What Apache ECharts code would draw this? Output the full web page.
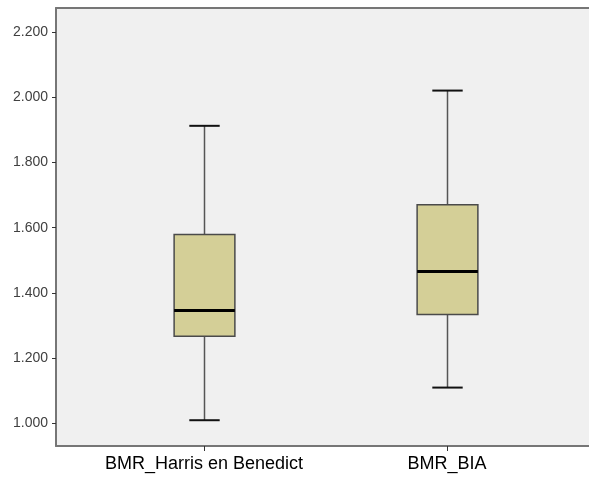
<!DOCTYPE html>
<html>
<head>
<meta charset="utf-8">
<script src="https://cdn.jsdelivr.net/npm/echarts@6/dist/echarts.min.js"></script>
<style>
  html, body { margin: 0; padding: 0; background: #ffffff; }
  #chart { width: 589px; height: 477px; }
</style>
</head>
<body>
<div id="chart"></div>
<script>
// Categories on the horizontal axis
var categories = ['BMR_Harris en Benedict', 'BMR_BIA'];
// Five-number summaries per category: [min, Q1, median, Q3, max]
var whiskerLow  = [1010, 1110];
var quartile1   = [1267, 1334];
var medians     = [1346, 1466];
var quartile3   = [1579, 1670];
var whiskerHigh = [1912, 2020];
// Vertical axis ticks
var yTicks = [1000, 1200, 1400, 1600, 1800, 2000, 2200];

function fmtThousands(v) {
  var t = Math.floor(v / 1000);
  var r = String(Math.round(v % 1000));
  while (r.length < 3) r = '0' + r;
  return t + '.' + r;
}

var boxData = categories.map(function (c, i) {
  return [i, whiskerLow[i], quartile1[i], medians[i], quartile3[i], whiskerHigh[i]];
});

function renderBox(params, api) {
  var x = api.value(0);
  var pMin = api.coord([x, api.value(1)]);
  var pQ1 = api.coord([x, api.value(2)]);
  var pMed = api.coord([x, api.value(3)]);
  var pQ3 = api.coord([x, api.value(4)]);
  var pMax = api.coord([x, api.value(5)]);
  var boxW = api.size([0.25, 0])[0];
  var capW = boxW / 2;
  var cx = Math.round(pMed[0]) + 0.5;
  var half = boxW / 2;
  return {
    type: 'group',
    children: [
      { type: 'line', shape: { x1: cx, y1: pQ3[1], x2: cx, y2: pMax[1] },
        style: { stroke: '#555555', lineWidth: 1.5 } },
      { type: 'line', shape: { x1: cx, y1: pQ1[1], x2: cx, y2: pMin[1] },
        style: { stroke: '#555555', lineWidth: 1.5 } },
      { type: 'line', shape: { x1: cx - capW / 2, y1: pMax[1], x2: cx + capW / 2, y2: pMax[1] },
        style: { stroke: '#111111', lineWidth: 2 } },
      { type: 'line', shape: { x1: cx - capW / 2, y1: pMin[1], x2: cx + capW / 2, y2: pMin[1] },
        style: { stroke: '#111111', lineWidth: 2 } },
      { type: 'rect', shape: { x: cx - half, y: pQ3[1], width: boxW, height: pQ1[1] - pQ3[1] },
        style: { fill: '#d4cf97', stroke: '#4a4a4a', lineWidth: 1.5 } },
      { type: 'line', shape: { x1: cx - half, y1: pMed[1], x2: cx + half, y2: pMed[1] },
        style: { stroke: '#000000', lineWidth: 3 } }
    ]
  };
}

var frameLine = { show: true, onZero: false, lineStyle: { color: '#767676', width: 2 } };

var chart = echarts.init(document.getElementById('chart'), null, { renderer: 'canvas' });
chart.setOption({
  animation: false,
  backgroundColor: '#ffffff',
  grid: {
    left: 56, top: 8, bottom: 31, right: 0,
    show: true,
    backgroundColor: '#f0f0f0',
    borderWidth: 0
  },
  xAxis: [{
    type: 'value',
    position: 'bottom',
    min: -0.609,
    max: 1.584,
    splitLine: { show: false },
    axisLine: frameLine,
    axisTick: { show: true, length: 5, customValues: [0, 1],
      lineStyle: { color: '#333333', width: 1 } },
    axisLabel: {
      customValues: [0, 1],
      formatter: function (v) { return categories[Math.round(v)]; },
      fontFamily: 'Liberation Sans, Arial, sans-serif',
      fontSize: 18,
      color: '#000000',
      margin: 9
    }
  }, {
    type: 'value',
    position: 'top',
    min: -0.609,
    max: 1.584,
    splitLine: { show: false },
    axisLine: frameLine,
    axisTick: { show: false },
    axisLabel: { show: false }
  }],
  yAxis: {
    type: 'value',
    min: 931,
    max: 2273,
    splitLine: { show: false },
    axisLine: frameLine,
    axisTick: { show: true, length: 4, customValues: yTicks,
      lineStyle: { color: '#333333', width: 1 } },
    axisLabel: {
      customValues: yTicks,
      formatter: function (v) { return fmtThousands(v); },
      fontFamily: 'Liberation Sans, Arial, sans-serif',
      fontSize: 14,
      color: '#404040',
      margin: 8
    }
  },
  series: [{
    type: 'custom',
    xAxisIndex: 0,
    renderItem: renderBox,
    encode: { x: 0, y: [1, 2, 3, 4, 5] },
    data: boxData
  }]
});
</script>
</body>
</html>
